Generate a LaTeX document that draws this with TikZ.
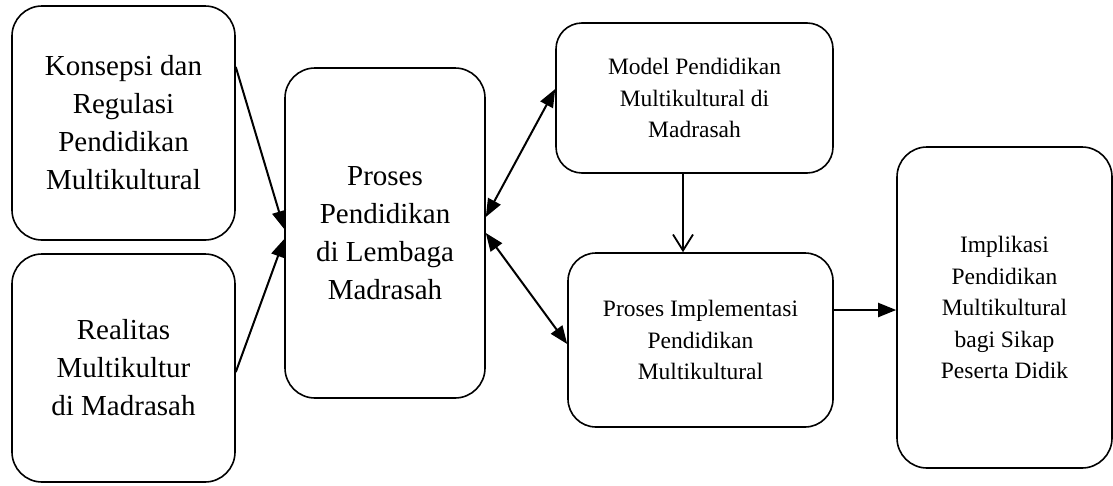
\documentclass[tikz,border=0pt]{standalone}
\usepackage{fontspec}
\setmainfont{Liberation Serif}
\usetikzlibrary{arrows.meta}
\begin{document}
\begin{tikzpicture}[x=1pt,y=-1pt,
  box/.style={draw, line width=1.6pt, rounded corners=30pt, align=center, inner sep=0pt},
  bigtext/.style={font=\fontsize{29}{38}\selectfont},
  smalltext/.style={font=\fontsize{23.5}{31.5}\selectfont},
  tip/.style={Triangle[length=18pt,width=14pt]},
  arr/.style={line width=2pt, -{Triangle[length=18pt,width=14pt]}},
  darr/.style={line width=2pt, {Triangle[length=18pt,width=14pt]}-{Triangle[length=18pt,width=14pt]}},
  varr/.style={line width=1.6pt, -{Straight Barb[length=16pt,width=20pt,line width=1.8pt]}}]
\useasboundingbox (0,0) rectangle (1113,485);
\node[box, bigtext, minimum width=223pt, minimum height=234pt] (A) at (123.5,123)
  {Konsepsi dan\\Regulasi\\Pendidikan\\Multikultural};
\node[box, bigtext, minimum width=223pt, minimum height=228pt] (B) at (123.5,368)
  {Realitas\\Multikultur\\di Madrasah};
\node[box, bigtext, minimum width=200pt, minimum height=330pt] (C) at (385,233)
  {Proses\\Pendidikan\\di Lembaga\\Madrasah};
\node[box, smalltext, rounded corners=26pt, minimum width=277pt, minimum height=150pt] (D) at (694.5,98)
  {Model Pendidikan\\Multikultural di\\Madrasah};
\node[box, smalltext, rounded corners=28pt, minimum width=265pt, minimum height=174pt] (E) at (700.5,340)
  {Proses Implementasi\\Pendidikan\\Multikultural};
\node[box, smalltext, minimum width=215pt, minimum height=321pt] (F) at (1004.5,307.5)
  {Implikasi\\Pendidikan\\Multikultural\\bagi Sikap\\Peserta Didik};
\draw[arr] (A.east |- 0,67) -- (C.west |- 0,229);
\draw[arr] (B.east |- 0,372) -- (C.west |- 0,239);
\draw[darr] (C.east |- 0,217) -- (D.west |- 0,89);
\draw[darr] (C.east |- 0,233) -- (E.west |- 0,344);
\draw[varr] (D.south -| 683,0) -- (E.north -| 683,0);
\draw[arr] (E.east |- 0,310) -- (F.west |- 0,310);
\end{tikzpicture}
\end{document}
